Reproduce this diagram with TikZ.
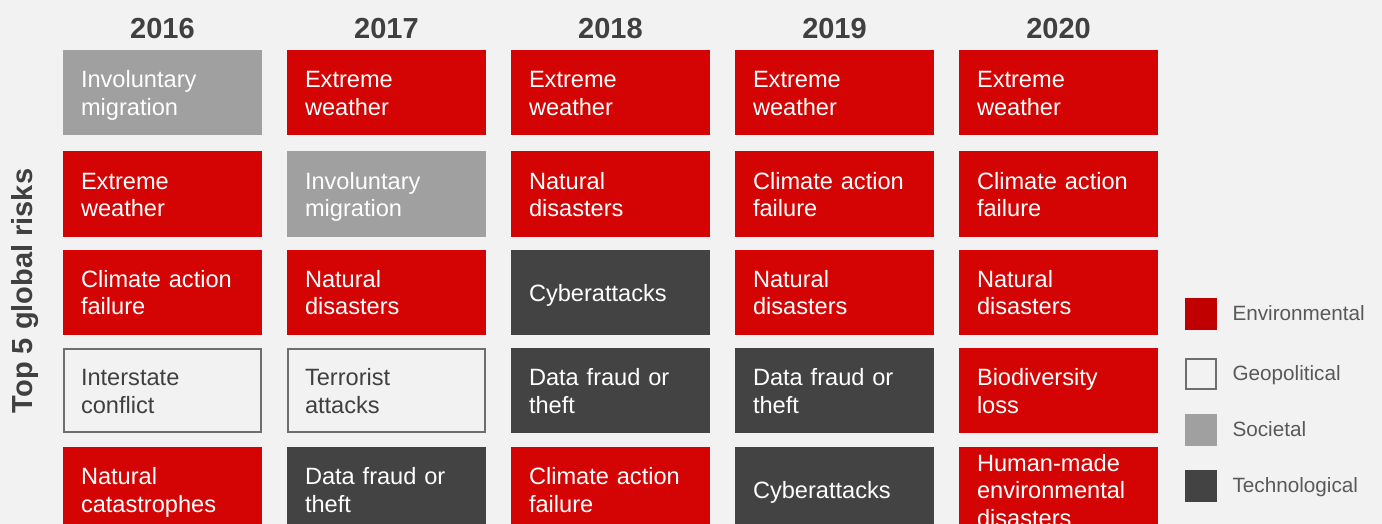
\documentclass[tikz,border=0pt]{standalone}
\usepackage{fontspec}
\setmainfont{Liberation Sans}
\definecolor{bggray}{HTML}{F2F2F2}
\definecolor{envred}{HTML}{D40404}
\definecolor{legred}{HTML}{C00000}
\definecolor{socgray}{HTML}{A0A0A0}
\definecolor{techgray}{HTML}{434343}
\definecolor{geoline}{HTML}{6E6E6E}
\definecolor{txtgray}{HTML}{404040}
\definecolor{leggray}{HTML}{595959}
\newcommand{\rl}[1]{\raisebox{-9pt}[0pt][0pt]{#1}}
\begin{document}
\begin{tikzpicture}[x=1pt, y=-1pt,
    risk/.style = {minimum height=85pt, text width=163pt, inner xsep=18pt, inner ysep=0pt,
                   align=left, font=\fontsize{23.6}{27.5}\selectfont},
    env/.style  = {risk, fill=envred, text=white},
    soc/.style  = {risk, fill=socgray, text=white},
    tech/.style = {risk, fill=techgray, text=white},
    geo/.style  = {risk, inner xsep=17pt, minimum height=83pt, fill=bggray, draw=geoline,
                   line width=2pt, text=txtgray},
    year/.style = {font=\fontsize{29}{34}\selectfont\bfseries, text=txtgray},
    legbox/.style = {minimum size=32pt, inner sep=0pt},
    legtext/.style = {anchor=base west, font=\fontsize{20.7}{25}\selectfont, text=leggray}]
                \clip (0,0) rectangle (1382,524);
                \fill[bggray] (0,0) rectangle (1382,524);
                % years
                \node[year] (y16) at (162.5,28.5) {2016};
                \node[year] (y17) at (386.5,28.5) {2017};
                \node[year] (y18) at (610.5,28.5) {2018};
                \node[year] (y19) at (834.5,28.5) {2019};
                \node[year] (y20) at (1058.5,28.5) {2020};
                \node[year, rotate=90] (toplabel) at (25,291) {Top 5 global risks};
                % 2016
                \node[soc]  (r16a) at (162.5,92.5) {\rl{Involuntary}\\\rl{migration}};
                \node[env]  (r16b) at (162.5,194)  {\rl{Extreme}\\\rl{weather}};
                \node[env]  (r16c) at (162.5,292)  {\rl{Climate action}\\\rl{failure}};
                \node[geo]  (r16d) at (162.5,390.5) {\rl{Interstate}\\\rl{conflict}};
                \node[env]  (r16e) at (162.5,489.5) {\rl{Natural}\\\rl{catastrophes}};
                % 2017
                \node[env]  (r17a) at (386.5,92.5) {\rl{Extreme}\\\rl{weather}};
                \node[soc]  (r17b) at (386.5,194)  {\rl{Involuntary}\\\rl{migration}};
                \node[env]  (r17c) at (386.5,292)  {\rl{Natural}\\\rl{disasters}};
                \node[geo]  (r17d) at (386.5,390.5) {\rl{Terrorist}\\\rl{attacks}};
                \node[tech] (r17e) at (386.5,489.5) {\rl{Data fraud or}\\\rl{theft}};
                % 2018
                \node[env]  (r18a) at (610.5,92.5) {\rl{Extreme}\\\rl{weather}};
                \node[env]  (r18b) at (610.5,194)  {\rl{Natural}\\\rl{disasters}};
                \node[tech] (r18c) at (610.5,292)  {\rl{Cyberattacks}};
                \node[tech] (r18d) at (610.5,390.5) {\rl{Data fraud or}\\\rl{theft}};
                \node[env]  (r18e) at (610.5,489.5) {\rl{Climate action}\\\rl{failure}};
                % 2019
                \node[env]  (r19a) at (834.5,92.5) {\rl{Extreme}\\\rl{weather}};
                \node[env]  (r19b) at (834.5,194)  {\rl{Climate action}\\\rl{failure}};
                \node[env]  (r19c) at (834.5,292)  {\rl{Natural}\\\rl{disasters}};
                \node[tech] (r19d) at (834.5,390.5) {\rl{Data fraud or}\\\rl{theft}};
                \node[tech] (r19e) at (834.5,489.5) {\rl{Cyberattacks}};
                % 2020
                \node[env]  (r20a) at (1058.5,92.5) {\rl{Extreme}\\\rl{weather}};
                \node[env]  (r20b) at (1058.5,194)  {\rl{Climate action}\\\rl{failure}};
                \node[env]  (r20c) at (1058.5,292)  {\rl{Natural}\\\rl{disasters}};
                \node[env]  (r20d) at (1058.5,390.5) {\rl{Biodiversity}\\\rl{loss}};
                \node[env]  (r20e) at (1058.5,489.5) {\rl{Human-made}\\\rl{environmental}\\\rl{disasters}};
                % legend
                \node[legbox, fill=legred] (legenv) at (1201,314) {};
                \node[legbox, minimum size=30pt, fill=bggray, draw=geoline, line width=2pt] (leggeo) at (1201,373.5) {};
                \node[legbox, fill=socgray] (legsoc) at (1201,430) {};
                \node[legbox, fill=techgray] (legtech) at (1201,486) {};
                \node[legtext] (legenvt) at (1229,320) {Environmental};
                \node[legtext] (leggeot) at (1229,380) {Geopolitical};
                \node[legtext] (legsoct) at (1229,436) {Societal};
                \node[legtext] (legtecht) at (1229,492) {Technological};
            \end{tikzpicture}
\end{document}
